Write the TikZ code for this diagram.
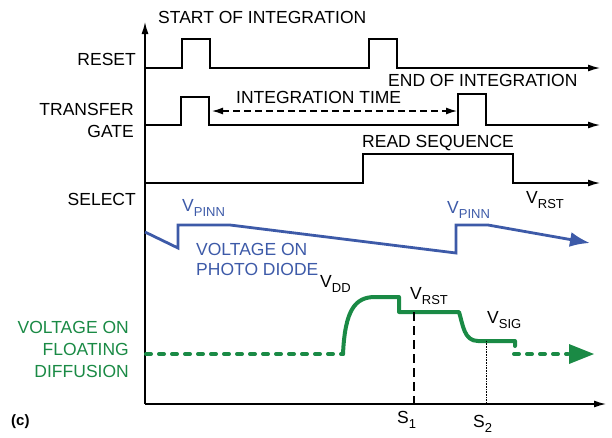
\documentclass[tikz,border=0pt]{standalone}
\usepackage{fontspec}
\setmainfont{Liberation Sans}
\usetikzlibrary{arrows.meta}
\definecolor{pdblue}{RGB}{61,90,168}
\definecolor{fdgreen}{RGB}{26,138,69}
\newcommand{\subtx}[1]{\raisebox{-5pt}{\fontsize{13}{13}\selectfont #1}}
\tikzset{
  sig/.style={line width=1.3pt, black},
  sigarrow/.style={sig, -{Latex[length=12pt,width=7pt]}},
  lbl/.style={font=\fontsize{17.5}{22}\selectfont, inner sep=0pt},
  bluelbl/.style={lbl, text=pdblue},
  greenlbl/.style={lbl, text=fdgreen, align=right},
  pdline/.style={line width=2.8pt, pdblue, line join=miter},
  fdline/.style={line width=4pt, fdgreen, line cap=round, line join=round},
  fddots/.style={line width=4pt, fdgreen, line cap=round, dash pattern=on 5pt off 8pt},
}
\begin{document}
\begin{tikzpicture}[x=1pt,y=-1pt]
\useasboundingbox (0,0) rectangle (612,437);
% axes
\coordinate (o) at (145,404);
\coordinate (ytop) at (145,22);
\coordinate (xend) at (606,404);
\draw[sig, -{Latex[length=12pt,width=7pt]}] (o) -- (ytop);
\draw[sig, -{Latex[length=12pt,width=7pt]}] (o) -- (xend);
% RESET
\coordinate (r0) at (145,68);
\coordinate (r1) at (600,68);
\draw[sigarrow] (r0) -- (182,68) -- (182,39) -- (210,39) -- (210,68) -- (369,68) -- (369,39) -- (397,39) -- (397,68) -- (r1);
% TRANSFER GATE
\coordinate (t0) at (145,125);
\coordinate (t1) at (600,125);
\draw[sigarrow] (t0) -- (181,125) -- (181,97) -- (209,97) -- (209,125) -- (458,125) -- (458,94) -- (486,94) -- (486,125) -- (t1);
% SELECT
\coordinate (s0) at (145,183);
\coordinate (s1) at (600,183);
\draw[sigarrow] (s0) -- (363,183) -- (363,154) -- (513,154) -- (513,183) -- (s1);
% integration time arrow
\coordinate (ia) at (212,111);
\coordinate (ib) at (457,111);
\draw[sig, dash pattern=on 7pt off 4pt, {Latex[length=11pt,width=7pt]}-{Latex[length=11pt,width=7pt]}] (ia) -- (ib);
% labels
\node[lbl, anchor=west] (start) at (158,17) {START OF INTEGRATION};
\node[lbl, anchor=west] (end) at (388,80) {END OF INTEGRATION};
\node[lbl, anchor=west, fill=white, inner xsep=2pt] (itime) at (234,97) {INTEGRATION TIME};
\node[lbl, anchor=west] (read) at (362,143) {READ SEQUENCE};
\node[lbl, anchor=east] (reset) at (136,59) {RESET};
\node[lbl, anchor=east, align=right] (tg) at (134,120) {TRANSFER\\GATE};
\node[lbl, anchor=east] (select) at (136,199) {SELECT};
\node[lbl, anchor=west] (vrst1) at (526,200) {V\subtx{RST}};
% photodiode voltage
\node[bluelbl, anchor=west] (vp1) at (182,208) {V\subtx{PINN}};
\node[bluelbl, anchor=west] (vp2) at (447,210) {V\subtx{PINN}};
\coordinate (p0) at (145,232);
\coordinate (p9) at (590,243);
\draw[pdline, -{Latex[length=20pt,width=15pt]}] (p0) -- (178,248) -- (178,225) -- (230,225) -- (456,253) -- (456,225) -- (488,225) -- (p9);
\node[bluelbl, anchor=west, align=left, font=\fontsize{17.5}{20}\selectfont] (pdtxt) at (196,259) {VOLTAGE ON\\PHOTO DIODE};
% floating diffusion
\node[lbl, anchor=west] (vdd) at (320,284) {V\subtx{DD}};
\node[lbl, anchor=west] (vrst2) at (410,296) {V\subtx{RST}};
\node[lbl, anchor=west] (vsig) at (487,320) {V\subtx{SIG}};
\coordinate (f0) at (146,354);
\coordinate (f1) at (343,354);
\coordinate (f2) at (514,354);
\coordinate (f3) at (568,354);
\coordinate (f4) at (594,354);
\draw[fddots] (f0) -- (f1);
\draw[fdline] (f1) .. controls (345,310) and (355,297) .. (375,297) -- (399,297) -- (399,312) -- (459,312) .. controls (463,325) and (464,341) .. (478,341) -- (515,341) -- (515,346);
\draw[fddots] (f2) -- (f3);
\fill[fdgreen] (569,344) -- (f4) -- (569,364) -- cycle;
\node[greenlbl, anchor=east] (fdtxt) at (129,349) {VOLTAGE ON\\FLOATING\\DIFFUSION};
% sample lines
\coordinate (s1top) at (414,312);
\coordinate (s1bot) at (414,404);
\coordinate (s2top) at (486,341);
\coordinate (s2bot) at (486,404);
\draw[line width=2pt, dash pattern=on 9pt off 5pt] (s1top) -- (s1bot);
\draw[line width=1pt, dash pattern=on 1pt off 0.6pt] (s2top) -- (s2bot);
\node[lbl, anchor=west] (s1lbl) at (397,420) {S\subtx{1}};
\node[lbl, anchor=west] (s2lbl) at (473,424) {S\subtx{2}};
\node[lbl, anchor=west, font=\fontsize{15}{18}\selectfont\bfseries] (c) at (11,422) {(c)};
\end{tikzpicture}
\end{document}
